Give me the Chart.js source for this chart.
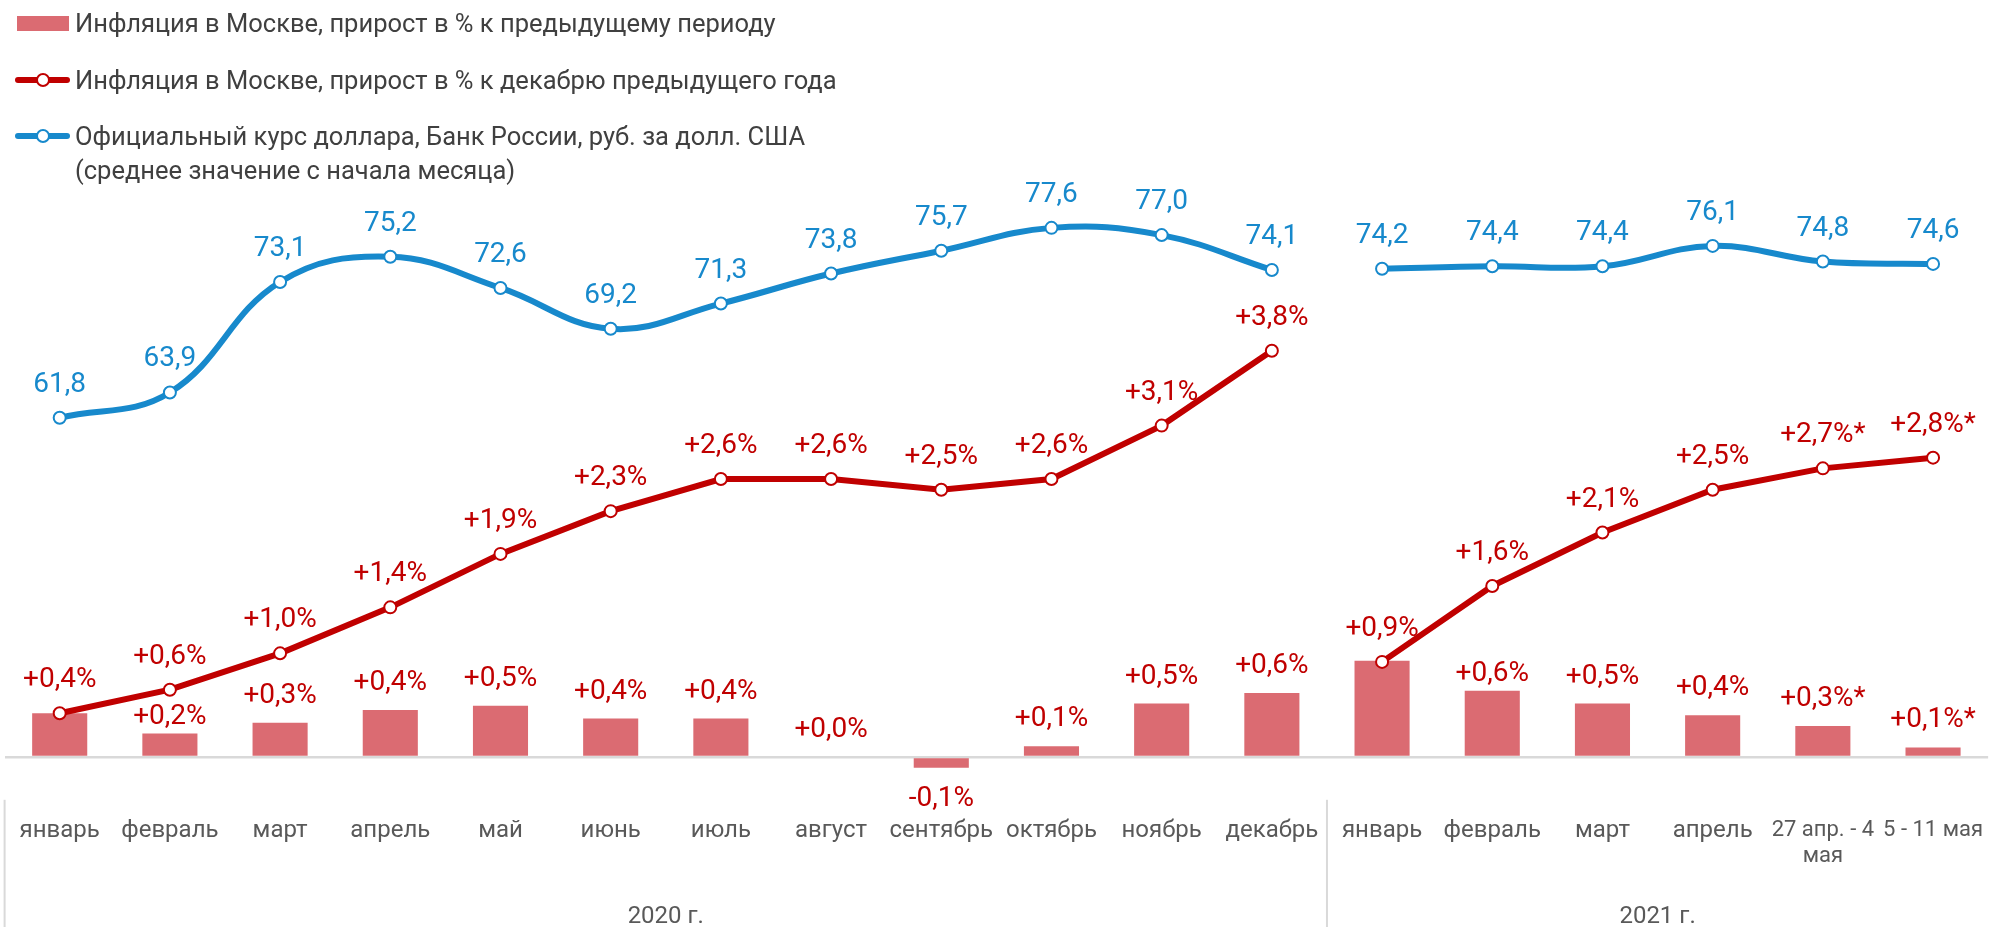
<!DOCTYPE html>
<html lang="ru">
<head>
<meta charset="utf-8">
<script src="https://cdn.jsdelivr.net/npm/chart.js@4/dist/chart.umd.min.js"></script>
<style>
  html, body { margin: 0; padding: 0; background: #fff; overflow: hidden; }
  #wrap { position: relative; width: 2000px; height: 927px; }
  #wrap canvas { position: absolute; left: 0; top: 0; }
  .legend { position: absolute; left: 0; top: 0; width: 900px; height: 190px; font-family: Roboto, sans-serif; font-size: 25.5px; color: #404040; z-index: 2; }
  .legend .txt { position: absolute; left: 75px; white-space: nowrap; line-height: 34px; }
  .legend .box { position: absolute; left: 17px; top: 16px; width: 52px; height: 15px; background: #db6b72; }
  .legend .ln { position: absolute; left: 15px; width: 55px; height: 6px; border-radius: 3px; }
  .legend .dot { position: absolute; left: 36px; width: 10px; height: 10px; border-radius: 50%; background: #fff; border: 2px solid; }
</style>
</head>
<body>
<div id="wrap">
  <div class="legend">
    <span class="box"></span>
    <span class="txt" style="top:6px">Инфляция в Москве, прирост в % к предыдущему периоду</span>
    <span class="ln" style="top:77px;background:#c00000"></span>
    <span class="dot" style="top:73px;border-color:#c00000"></span>
    <span class="txt" style="top:63px">Инфляция в Москве, прирост в % к декабрю предыдущего года</span>
    <span class="ln" style="top:133px;background:#1789cc"></span>
    <span class="dot" style="top:129px;border-color:#1789cc"></span>
    <span class="txt" style="top:119px">Официальный курс доллара, Банк России, руб. за долл. США<br>(среднее значение с начала месяца)</span>
  </div>
  <canvas id="chart"></canvas>
</div>
<script>
// categories
const months2020 = ["январь", "февраль", "март", "апрель", "май", "июнь", "июль", "август", "сентябрь", "октябрь", "ноябрь", "декабрь"];
const periods2021 = ["январь", "февраль", "март", "апрель", ["27 апр. - 4", "мая"], "5 - 11 мая"];
const groupLabels = ["2020 г.", "2021 г."];

// inflation, % to previous period (bars)
const monthly2020 = [0.41, 0.22, 0.32, 0.44, 0.48, 0.36, 0.36, 0.0, -0.1, 0.1, 0.5, 0.6];
const monthly2021 = [0.9, 0.62, 0.5, 0.39, 0.29, 0.09];

// inflation, % to December of previous year (red line)
const cumulative2020 = [0.41, 0.63, 0.97, 1.4, 1.9, 2.3, 2.6, 2.6, 2.5, 2.6, 3.1, 3.8];
const cumulative2021 = [0.89, 1.6, 2.1, 2.5, 2.7, 2.8];

// USD rate, rub (blue line)
const usd2020 = [61.8, 63.9, 73.1, 75.2, 72.6, 69.2, 71.3, 73.8, 75.7, 77.6, 77.0, 74.1];
const usd2021 = [74.2, 74.4, 74.4, 76.1, 74.8, 74.6];

// preliminary estimates (marked with *)
const prelim2021 = [false, false, false, false, true, true];

const RED = "#c00000";
const BLUE = "#1789cc";
const BAR = "#db6b72";
const GRAY_TEXT = "#595959";

const labels = months2020.concat(periods2021);
const n2020 = months2020.length;
const n2021 = periods2021.length;
const blanks = (k) => Array(k).fill(null);
const prelim = Array(n2020).fill(false).concat(prelim2021);

function pct(v, i) {
  if (v === null) return null;
  const s = (v >= 0 ? "+" : "") + v.toFixed(1).replace(".", ",") + "%";
  return prelim[i] ? s + "*" : s;
}
function rate(v) {
  return v === null ? null : v.toFixed(1).replace(".", ",");
}

const barData = monthly2020.concat(monthly2021);
const red2020 = cumulative2020.concat(blanks(n2021));
const red2021 = blanks(n2020).concat(cumulative2021);
const blue2020 = usd2020.concat(blanks(n2021));
const blue2021 = blanks(n2020).concat(usd2021);

// bar labels hidden where the red label sits on top, lowered a bit where crowded
const barLabelHide = [0, 12];
const barLabelGap = { 1: 17, 13: 17 };

const lineStyle = (color) => ({
  type: "line",
  borderColor: color,
  borderWidth: 6,
  pointRadius: 6,
  pointHoverRadius: 6,
  pointBorderWidth: 2,
  pointBackgroundColor: "#fff",
  pointBorderColor: color,
  spanGaps: false,
  fill: false,
});

const valueLabels = {
  id: "valueLabels",
  afterDatasetsDraw(chart) {
    const ctx = chart.ctx;
    ctx.save();
    ctx.font = "28px Roboto";
    ctx.textAlign = "center";
    ctx.textBaseline = "middle";
    chart.data.datasets.forEach((ds, di) => {
      const meta = chart.getDatasetMeta(di);
      ctx.fillStyle = ds.labelColor;
      meta.data.forEach((el, i) => {
        const v = ds.data[i];
        if (v === null || v === undefined) return;
        let y;
        if (ds.type === "bar") {
          if (barLabelHide.includes(i)) return;
          if (v < 0) y = el.y + 31;
          else y = el.y - (barLabelGap[i] || 27);
        } else {
          y = el.y - 33;
        }
        ctx.fillText(ds.labelFn(v, i), el.x, y);
      });
    });
    ctx.restore();
  },
};

const groupAxis = {
  id: "groupAxis",
  afterDraw(chart) {
    const ctx = chart.ctx;
    const x = chart.scales.x;
    const half = (x.getPixelForValue(1) - x.getPixelForValue(0)) / 2;
    const bottom = chart.chartArea.bottom;
    const h = chart.height;
    const edges = [x.getPixelForValue(0) - half, x.getPixelForValue(n2020) - half, x.getPixelForValue(n2020 + n2021 - 1) + half];
    ctx.save();
    ctx.strokeStyle = "#d9d9d9";
    ctx.lineWidth = 2;
    [edges[0], edges[1]].forEach((px) => {
      ctx.beginPath();
      ctx.moveTo(px, bottom);
      ctx.lineTo(px, h);
      ctx.stroke();
    });
    ctx.fillStyle = GRAY_TEXT;
    ctx.font = "24px Roboto";
    ctx.textAlign = "center";
    ctx.textBaseline = "middle";
    groupLabels.forEach((g, k) => {
      const mid = (edges[k] + Math.min(edges[k + 1], 1991)) / 2;
      ctx.fillText(g, mid, 917);
    });
    ctx.restore();
  },
};

Chart.defaults.font.family = "Roboto";
Chart.defaults.font.size = 24;
Chart.defaults.color = GRAY_TEXT;

new Chart(document.getElementById("chart"), {
  data: {
    labels: labels,
    datasets: [
      Object.assign(lineStyle(BLUE), { label: "usd2020", data: blue2020, yAxisID: "y2", tension: 0.4, labelColor: BLUE, labelFn: rate }),
      Object.assign(lineStyle(BLUE), { label: "usd2021", data: blue2021, yAxisID: "y2", tension: 0.4, labelColor: BLUE, labelFn: rate }),
      Object.assign(lineStyle(RED), { label: "cum2020", data: red2020, yAxisID: "y", tension: 0, labelColor: RED, labelFn: pct }),
      Object.assign(lineStyle(RED), { label: "cum2021", data: red2021, yAxisID: "y", tension: 0, labelColor: RED, labelFn: pct }),
      {
        type: "bar",
        label: "monthly",
        data: barData,
        yAxisID: "y",
        backgroundColor: BAR,
        borderWidth: 0,
        barPercentage: 0.5,
        categoryPercentage: 1.0,
        labelColor: RED,
        labelFn: pct,
      },
    ],
  },
  options: {
    responsive: true,
    maintainAspectRatio: false,
    animation: false,
    events: [],
    layout: {
      autoPadding: false,
      padding: { left: 4.6, right: 0, top: 169, bottom: 40.4 },
    },
    plugins: {
      legend: { display: false },
      tooltip: { enabled: false },
    },
    scales: {
      x: {
        offset: true,
        grid: { display: false, drawTicks: false },
        border: { display: false },
        ticks: {
          color: GRAY_TEXT,
          padding: 17,
          maxRotation: 0,
          autoSkip: false,
          // the two weekly periods are set a little tighter so they do not touch
          font: (c) => ({ size: c.index >= n2020 + 4 ? 22 : 24 }),
        },
      },
      y: {
        min: -0.4,
        max: 5.5,
        afterBuildTicks: (scale) => { scale.ticks = [{ value: 0 }]; },
        ticks: { display: false },
        grid: { color: "#d9d9d9", lineWidth: 2.5, drawTicks: false },
        border: { display: false },
      },
      y2: {
        display: false,
        min: 30,
        max: 82.5,
      },
    },
  },
  plugins: [valueLabels, groupAxis],
});
</script>
</body>
</html>
